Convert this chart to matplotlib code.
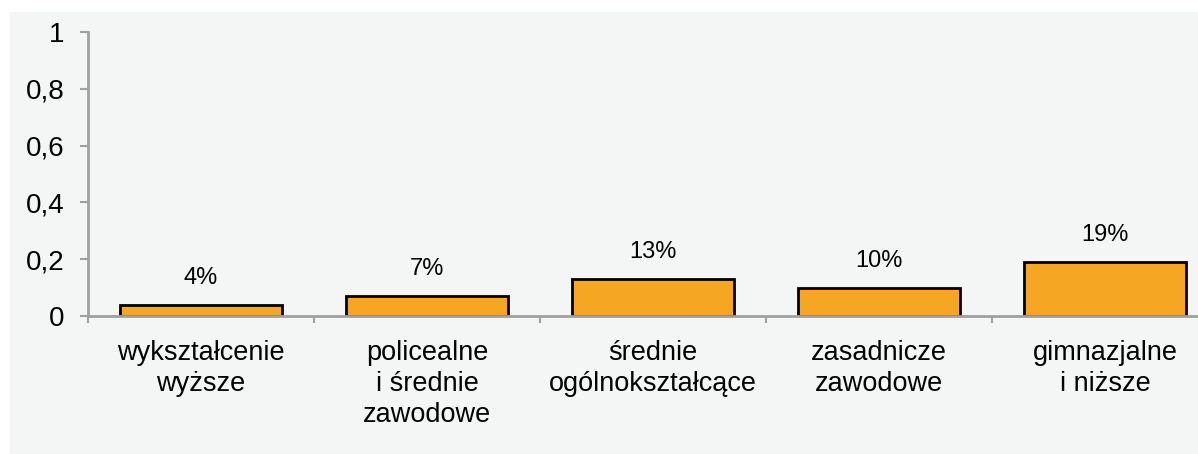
import matplotlib
matplotlib.use("Agg")
import matplotlib.pyplot as plt
from matplotlib.patches import Rectangle
from matplotlib import font_manager

categories = ["wykształcenie\nwyższe", "policealne\ni średnie\nzawodowe",
              "średnie\nogólnokształcące", "zasadnicze\nzawodowe", "gimnazjalne\ni niższe"]
values = [0.04, 0.07, 0.13, 0.10, 0.19]
value_labels = ["4%", "7%", "13%", "10%", "19%"]
yticks = [0, 0.2, 0.4, 0.6, 0.8, 1.0]
ytick_labels = ["0", "0,2", "0,4", "0,6", "0,8", "1"]

W, H = 1198, 454
fig = plt.figure(figsize=(W / 100, H / 100), dpi=100, facecolor="white")
fig.patches.append(Rectangle((10 / W, 0), 1, (H - 12) / H, transform=fig.transFigure,
                             facecolor="#f4f6f6", edgecolor="none", zorder=-10))

left, right, bottom, top = 88, 88 + 5 * 226, 316, 32
ax = fig.add_axes([left / W, (H - bottom) / H, (right - left) / W, (bottom - top) / H])
ax.set_facecolor("none")
ax.set_zorder(5)

font = ["Liberation Sans", "DejaVu Sans"]
try:
    font_manager.findfont(font_manager.FontProperties(family="Liberation Sans Narrow"),
                          fallback_to_default=False)
    narrow, label_size = ["Liberation Sans Narrow", "DejaVu Sans"], 20
except Exception:
    narrow, label_size = ["Liberation Sans", "DejaVu Sans"], 17

x = list(range(len(values)))
ax.bar(x, values, width=0.72, color="#f5a623", edgecolor="black", linewidth=2, zorder=2)
for xi, v, lab in zip(x, values, value_labels):
    ax.annotate(lab, (xi, v), xytext=(0, 15), textcoords="offset points",
                ha="center", va="baseline", fontsize=label_size, family=narrow, color="black")

ax.set_xlim(-0.5, len(values) - 0.5)
ax.set_ylim(0, 1)
ax.set_yticks(yticks)
ax.set_yticklabels(ytick_labels, fontsize=20, family=font)
ax.set_xticks(x)
ax.set_xticklabels(categories, fontsize=19.5, family=font, linespacing=1.25)
ax.set_xticks([i - 0.5 for i in range(len(values) + 1)], minor=True)

gray = "#a0a0a0"
for s in ["top", "right"]:
    ax.spines[s].set_visible(False)
for s in ["left", "bottom"]:
    ax.spines[s].set_color(gray)
    ax.spines[s].set_linewidth(2)
    ax.spines[s].set_zorder(3)
ax.tick_params(axis="y", length=6, width=1.5, color=gray, pad=11)
ax.tick_params(axis="x", which="major", length=0, pad=17)
ax.tick_params(axis="x", which="minor", length=5, width=1.5, color=gray)

fig.savefig("out.png", dpi=100, facecolor="white")
